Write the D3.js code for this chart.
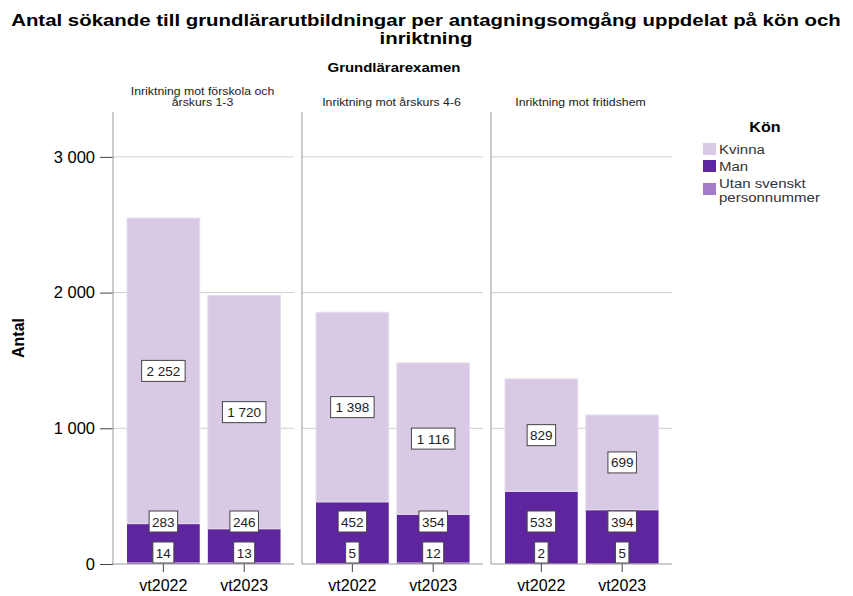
<!DOCTYPE html>
<meta charset="utf-8">
<title>Antal sökande till grundlärarutbildningar</title>
<script src="https://cdn.jsdelivr.net/npm/d3@7/dist/d3.min.js"></script>
<style>
  body { margin: 0; background: #fff; }
  text { font-family: "Liberation Sans", Arial, sans-serif; fill: #000; }
  .grid line { stroke: #cfcfcf; }
  .lbl rect { fill: #fff; stroke: #444; stroke-width: 1; }
  .lbl text { font-size: 13.5px; fill: #222; }
</style>
<body>
<svg></svg>
<script>
// data
var panels = ["Inriktning mot förskola och|årskurs 1-3", "Inriktning mot årskurs 4-6", "Inriktning mot fritidshem"];
var rounds = ["vt2022", "vt2023"];
var groups = ["Utan svenskt personnummer", "Man", "Kvinna"];   // stacking order, bottom first
var utan   = [[14, 13], [5, 12], [2, 5]];
var man    = [[283, 246], [452, 354], [533, 394]];
var kvinna = [[2252, 1720], [1398, 1116], [829, 699]];
var yTicks = [0, 1000, 2000, 3000];

var colors = { "Kvinna": "#d8c9e5", "Man": "#5f259f", "Utan svenskt personnummer": "#a47bc9" };

var width = 853, height = 596;
var svg = d3.select("svg").attr("width", width).attr("height", height);

var plotTop = 112, plotBottom = 564;
var y = d3.scaleLinear().domain([0, 3000]).range([plotBottom, plotBottom - 3 * 135.7]);

var panelW = 181, panelStep = 189;
var x = d3.scaleBand().domain(rounds).range([0, panelW]).paddingInner(0.1).paddingOuter(0.17).align(0.51);

var fmt = function(v) { return d3.format(",")(v).replace(/,/g, " "); };

// the reference font is a bit wider than Liberation Sans, so widen text
function stretch(sel, k) {
  sel.each(function() {
    var w = this.getComputedTextLength();
    d3.select(this).attr("textLength", w * k).attr("lengthAdjust", "spacingAndGlyphs");
  });
}

// title
svg.append("text").attr("x", 426).attr("y", 26).attr("text-anchor", "middle")
  .style("font-size", "17px").style("font-weight", "bold")
  .text("Antal sökande till grundlärarutbildningar per antagningsomgång uppdelat på kön och")
  .call(stretch, 1.2);
svg.append("text").attr("x", 426).attr("y", 44).attr("text-anchor", "middle")
  .style("font-size", "17px").style("font-weight", "bold").text("inriktning")
  .call(stretch, 1.2);
svg.append("text").attr("x", 394).attr("y", 72).attr("text-anchor", "middle")
  .style("font-size", "13px").style("font-weight", "bold").text("Grundlärarexamen")
  .call(stretch, 1.15);

// y axis
var yAxis = svg.append("g").attr("transform", "translate(113,0)")
  .call(d3.axisLeft(y).tickValues(yTicks).tickSize(13).tickPadding(5).tickFormat(fmt));
yAxis.select(".domain").remove();
yAxis.selectAll(".tick line").attr("stroke", "#444");
yAxis.selectAll(".tick text").style("font-size", "16.5px").style("font-family", "Liberation Sans, Arial, sans-serif");

svg.append("text").attr("transform", "translate(24," + ((plotTop + plotBottom) / 2) + ") rotate(-90)")
  .attr("text-anchor", "middle").style("font-size", "16px").style("font-weight", "bold").text("Antal");

panels.forEach(function(name, p) {
  var px = 113 + p * panelStep;
  var g = svg.append("g").attr("transform", "translate(" + px + ",0)");

  // panel header
  var lines = name.split("|");
  lines.forEach(function(l, i) {
    g.append("text").attr("x", panelW / 2 - 1).attr("y", 106 - (lines.length - 1 - i) * 11)
      .attr("text-anchor", "middle").style("font-size", "10.7px").style("fill", "#222").text(l)
      .call(stretch, 1.15);
  });

  // grid
  g.append("g").attr("class", "grid").selectAll("line")
    .data(yTicks.slice(1)).join("line")
    .attr("x1", 0).attr("x2", panelW).attr("y1", d => y(d)).attr("y2", d => y(d));

  // stacks
  var rows = rounds.map(function(r, i) {
    return { round: r, "Utan svenskt personnummer": utan[p][i], "Man": man[p][i], "Kvinna": kvinna[p][i] };
  });
  var series = d3.stack().keys(groups)(rows);

  series.forEach(function(s) {
    g.selectAll(null).data(s).join("rect")
      .attr("x", d => x(d.data.round))
      .attr("width", x.bandwidth())
      .attr("y", d => y(d[1]))
      .attr("height", d => y(d[0]) - y(d[1]))
      .attr("fill", colors[s.key])
      .attr("stroke", s.key === "Kvinna" ? "#e6dcef" : "none")
      .attr("stroke-width", 1);
  });

  // labels at segment middle, pushed up so they do not overlap
  rows.forEach(function(row, i) {
    var cx = x(row.round) + x.bandwidth() / 2;
    var h = 21, prevTop = null;
    series.forEach(function(s) {
      var d = s[i];
      var v = d[1] - d[0];
      var cy = (y(d[0]) + y(d[1])) / 2;
      if (prevTop === null) cy = Math.min(cy, plotBottom - 1 - h / 2);
      else cy = Math.min(cy, prevTop - 10 - h / 2);
      prevTop = cy - h / 2;
      var txt = fmt(v);
      var w = txt.length * 7.5 + 6;
      var lb = g.append("g").attr("class", "lbl");
      lb.append("rect").attr("x", cx - w / 2).attr("y", cy - h / 2).attr("width", w).attr("height", h);
      lb.append("text").attr("x", cx).attr("y", cy + 5).attr("text-anchor", "middle").text(txt);
    });
  });

  // frame: left line and baseline
  g.append("line").attr("x1", 0).attr("x2", 0).attr("y1", plotTop).attr("y2", plotBottom).attr("stroke", "#999");
  g.append("line").attr("x1", 0).attr("x2", panelW).attr("y1", plotBottom).attr("y2", plotBottom).attr("stroke", "#999");

  // x axis
  var xa = g.append("g").attr("transform", "translate(0," + plotBottom + ")")
    .call(d3.axisBottom(x).tickSize(8).tickPadding(8));
  xa.select(".domain").remove();
  xa.selectAll(".tick line").attr("stroke", "#444");
  xa.selectAll(".tick text").style("font-size", "16px").style("font-family", "Liberation Sans, Arial, sans-serif");
});

// legend
var lg = svg.append("g").attr("transform", "translate(703,0)");
lg.append("text").attr("x", 62).attr("y", 132).attr("text-anchor", "middle")
  .style("font-size", "14px").style("font-weight", "bold").text("Kön")
  .call(stretch, 1.15);
var legendItems = [
  { key: "Kvinna", y: 143, lines: ["Kvinna"], base: 154 },
  { key: "Man", y: 160, lines: ["Man"], base: 171 },
  { key: "Utan svenskt personnummer", y: 183, lines: ["Utan svenskt", "personnummer"], base: 188 }
];
legendItems.forEach(function(it) {
  lg.append("rect").attr("x", 0).attr("y", it.y).attr("width", 13).attr("height", 12).attr("fill", colors[it.key]);
  it.lines.forEach(function(l, i) {
    lg.append("text").attr("x", 16).attr("y", it.base + i * 13.5)
      .style("font-size", "12.5px").style("fill", "#333").text(l)
      .call(stretch, 1.2);
  });
});
</script>
</body>
